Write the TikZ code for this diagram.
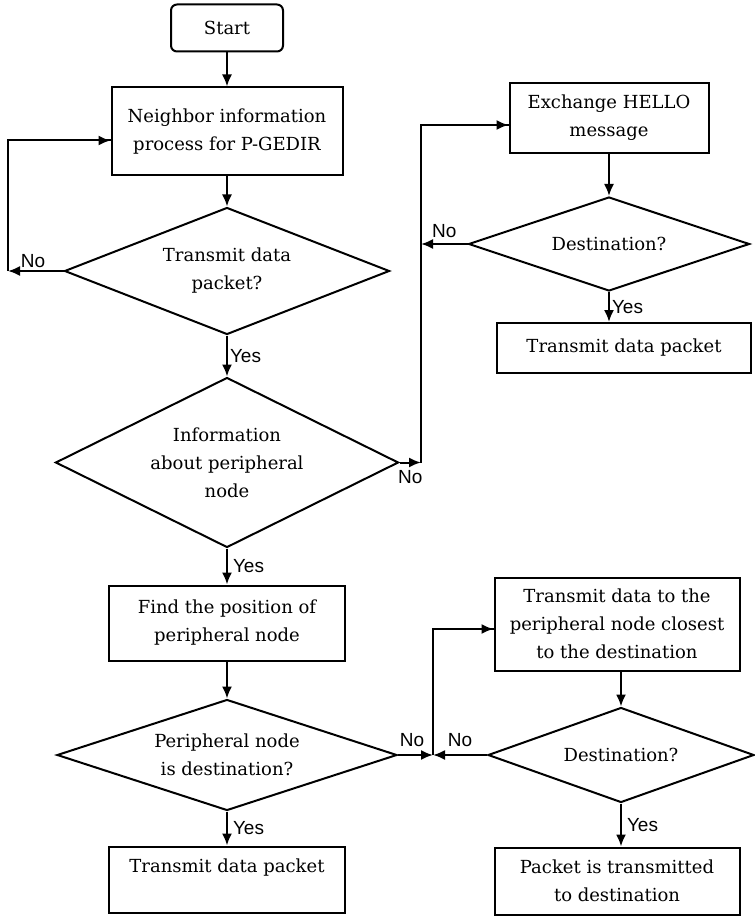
\documentclass[tikz,border=0pt]{standalone}
\usepackage{fontspec}
\setmainfont{DejaVu Serif}
\newfontfamily\lblfont{Liberation Sans}
\usepackage{tikz}
\usetikzlibrary{positioning}
\usetikzlibrary{shapes.geometric}
\usetikzlibrary{arrows.meta}

\newcommand{\boxfont}{\fontsize{18}{28}\selectfont}
\newcommand{\yesnofont}{\lblfont\fontsize{19}{21}\selectfont}

\begin{document}
\begin{tikzpicture}[x=1pt, y=-1pt,
    box/.style={draw, line width=2pt, align=center, inner sep=2pt, font=\boxfont},
    decision/.style={draw, diamond, line width=2pt, inner sep=0pt},
    txt/.style={align=center, font=\boxfont},
    lbl/.style={font=\yesnofont, inner sep=2pt},
    arr/.style={line width=2pt, -{Latex[length=12pt,width=10pt]}},
    ln/.style={line width=2pt}]

    \useasboundingbox (0,0) rectangle (754,917);

    % left column
    \node [box, rounded corners=6pt, minimum width=112pt, minimum height=47pt] (start) at (227,28) {Start};
    \node [box, below=34pt of start, minimum width=231pt, minimum height=88pt] (nbr) {Neighbor information\\process for P-GEDIR};
    \node [decision, below=30pt of nbr, minimum width=325pt, minimum height=127pt,
           label={[txt]center:Transmit data\\packet?}] (tx) {};
    \node [decision, below=41pt of tx, minimum width=343pt, minimum height=170pt,
           label={[txt]center:Information\\about peripheral\\node}] (info) {};
    \node [box, below=36pt of info, minimum width=236pt, minimum height=75pt] (find) {Find the position of\\peripheral node};
    \node [decision, below=37pt of find, minimum width=340pt, minimum height=111pt,
           label={[txt]center:Peripheral node\\is destination?}] (isdst) {};
    \node [box, below=34pt of isdst, minimum width=236pt, minimum height=66pt,
           label={[txt, anchor=north, yshift=-10pt]north:Transmit data packet}] (txpk2) {};

    % right column, top
    \node [box, minimum width=199pt, minimum height=70pt] (hello) at (609,118) {Exchange HELLO\\message};
    \node [decision, below=42pt of hello, minimum width=281pt, minimum height=94pt,
           label={[txt]center:Destination?}] (dst1) {};
    \node [box, minimum width=254pt, minimum height=50pt] (txpk1) at (624,348) {Transmit data packet};

    % right column, bottom
    \node [box, minimum width=245pt, minimum height=93pt] (closest) at (617,624) {Transmit data to the\\peripheral node closest\\to the destination};
    \node [decision, minimum width=266pt, minimum height=95pt,
           label={[txt]center:Destination?}] (dst2) at (621,755) {};
    \node [box, minimum width=245pt, minimum height=67pt] (done) at (617,881) {Packet is transmitted\\to destination};

    \coordinate (c1) at (8,272);
    \coordinate (c2) at (421,463);
    \coordinate (c3) at (433,755);

    % main flow
    \draw [arr] (start) -- (nbr);
    \draw [arr] (nbr) -- (tx);
    \draw [arr] (tx.south) -- node [lbl, right] (yes1) {Yes} (info.north);
    \draw [arr] (info.south) -- node [lbl, right=3pt] (yes2) {Yes} (find.north);
    \draw [arr] (find) -- (isdst);
    \draw [arr] (isdst.south) -- node [lbl, right=3pt] (yes3) {Yes} (txpk2.north);

    % loop back
    \draw [arr] (tx.west) -- node [lbl, above, pos=0.55] (no1) {No} (tx.west -| c1);
    \draw [ln] (tx.west -| c1) |- ([yshift=-9pt]nbr.west);
    \draw [arr] ([yshift=-9pt]nbr.west -| c1) -- ([yshift=-9pt]nbr.west);

    % HELLO branch
    \draw [arr] (info.east) -- node [lbl, below=5pt] (no2) {No} (info.east -| c2);
    \draw [ln] (info.east -| c2) |- ([yshift=-7pt]hello.west);
    \draw [arr] ([yshift=-7pt]hello.west -| c2) -- ([yshift=-7pt]hello.west);
    \draw [arr] (hello) -- (dst1);
    \draw [arr] (dst1.west) -- node [lbl, above=3pt] (no3) {No} (dst1.west -| c2);
    \draw [arr] (dst1.south) -- node [lbl, right] (yes4) {Yes} (dst1.south |- txpk1.north);

    % closest branch
    \draw [arr] (isdst.east) -- node [lbl, above=5pt, pos=0.4] (no4) {No} (isdst.east -| c3);
    \draw [ln] (c3) |- ([yshift=-5pt]closest.west);
    \draw [arr] ([yshift=-5pt]closest.west -| c3) -- ([yshift=-5pt]closest.west);
    \draw [arr] (dst2.north |- closest.south) -- (dst2.north);
    \draw [arr] (dst2.west) -- node [lbl, above=5pt] (no5) {No} (dst2.west -| c3);
    \draw [arr] (dst2.south) -- node [lbl, right=3pt] (yes5) {Yes} (dst2.south |- done.north);
\end{tikzpicture}
\end{document}
